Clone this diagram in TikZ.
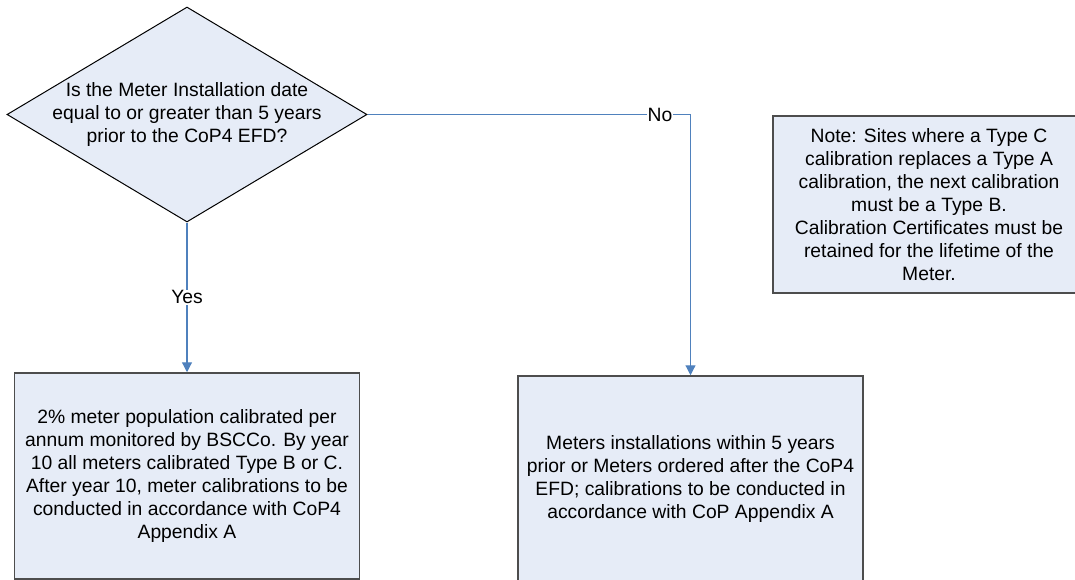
\documentclass[tikz,border=0pt]{standalone}
\usepackage{fontspec}
\setmainfont{Liberation Sans}
\usetikzlibrary{shapes.geometric,arrows.meta}
\definecolor{boxfill}{RGB}{230,236,247}
\definecolor{boxline}{RGB}{77,77,77}
\definecolor{connblue}{RGB}{79,129,189}
\begin{document}
\begin{tikzpicture}[x=1pt,y=-1pt,
  txt/.style={font=\fontsize{19.3}{23}\selectfont, align=center},
  dec/.style={diamond, draw=black, fill=boxfill, line width=1pt, minimum width=360pt, minimum height=215pt, inner sep=0pt},
  proc/.style={rectangle, draw=boxline, fill=boxfill, line width=1.5pt, inner sep=0pt, txt},
  conn/.style={draw=connblue, line width=1.2pt, -{Triangle[width=10pt,length=10pt]}},
  lbl/.style={fill=white, inner sep=1pt, txt}]
\useasboundingbox (0,0) rectangle (1075,580);
\node[dec] (q) at (187,114.5) {};
\node[txt] (qtext) at (q) {Is the Meter Installation date\\equal to or greater than 5 years\\prior to the CoP4 EFD?};
\node[proc, minimum width=345pt, minimum height=206pt] (l) at (187,476) {2\% meter population calibrated per\\annum monitored by BSCCo. By year\\10 all meters calibrated Type B or C.\\After year 10, meter calibrations to be\\conducted in accordance with CoP4\\Appendix A};
\node[proc, minimum width=345pt, minimum height=206pt] (r) at (690.5,479) {Meters installations within 5 years\\prior or Meters ordered after the CoP4\\EFD; calibrations to be conducted in\\accordance with CoP Appendix A};
\node[proc, minimum width=312pt, minimum height=177pt] (n) at (929,204.5) {Note: Sites where a Type C\\calibration replaces a Type A\\calibration, the next calibration\\must be a Type B.\\Calibration Certificates must be\\retained for the lifetime of the\\Meter.};
\draw[conn] (q.south) -- node[lbl, pos=0.5] (yes) {Yes} (l.north);
\draw[conn] (q.east) -| (r.north);
\node[lbl] (no) at (660,114.5) {No};
\end{tikzpicture}
\end{document}
